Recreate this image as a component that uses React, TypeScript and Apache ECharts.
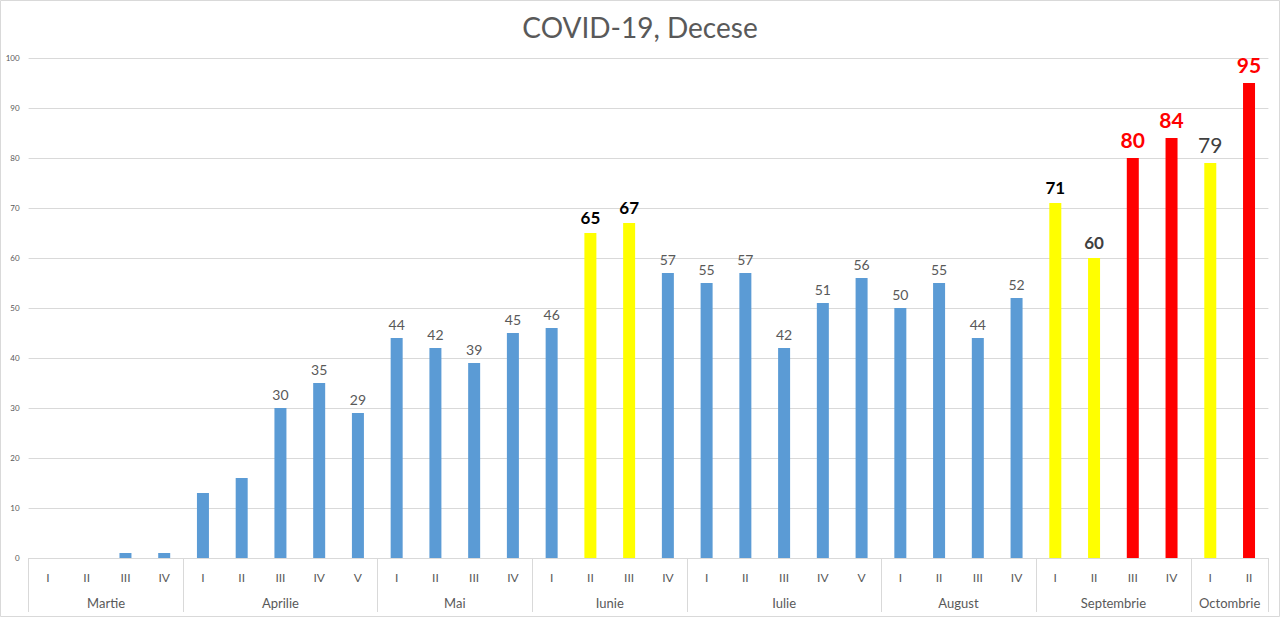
import React, { useEffect, useRef } from "react";
import * as echarts from "echarts";

const months = ["Martie", "Aprilie", "Mai", "Iunie", "Iulie", "August", "Septembrie", "Octombrie"];
const weeksPerMonth = [4, 5, 4, 4, 5, 4, 4, 2];
const romans = ["I", "II", "III", "IV", "V"];
const values = [
  0, 0, 1, 1,
  13, 16, 30, 35, 29,
  44, 42, 39, 45,
  46, 65, 67, 57,
  55, 57, 42, 51, 56,
  50, 55, 44, 52,
  71, 60, 80, 84,
  79, 95,
];
// b = blue, y = yellow, r = red
const barKinds = [
  "b", "b", "b", "b",
  "b", "b", "b", "b", "b",
  "b", "b", "b", "b",
  "b", "y", "y", "b",
  "b", "b", "b", "b", "b",
  "b", "b", "b", "b",
  "y", "y", "r", "r",
  "y", "r",
];
// n = none, s = small grey, k = bold black, d = bold dark grey, r = big bold red, g = big grey
const labelKinds = [
  "n", "n", "n", "n",
  "n", "n", "s", "s", "s",
  "s", "s", "s", "s",
  "s", "k", "k", "s",
  "s", "s", "s", "s", "s",
  "s", "s", "s", "s",
  "k", "d", "r", "r",
  "g", "r",
];
const yTicks = [0, 10, 20, 30, 40, 50, 60, 70, 80, 90, 100];

const FONT = "Lato, 'Open Sans', sans-serif";
const barColors: Record<string, string> = { b: "#5B9BD5", y: "#FFFF00", r: "#FF0000" };
const labelStyles: Record<string, any> = {
  n: { show: false },
  s: { show: true, fontSize: 14, color: "#595959", fontWeight: "normal", distance: 7 },
  k: { show: true, fontSize: 17, color: "#000000", fontWeight: "bold", distance: 7 },
  d: { show: true, fontSize: 17, color: "#404040", fontWeight: "bold", distance: 7 },
  r: { show: true, fontSize: 21, color: "#FF0000", fontWeight: "bold", distance: 8 },
  g: { show: true, fontSize: 21, color: "#404040", fontWeight: "normal", distance: 8 },
};

export default function App() {
  const ref = useRef<HTMLDivElement>(null);
  useEffect(() => {
    document.body.style.margin = "0";
    const chart = echarts.init(ref.current!, null, { renderer: "svg" });

    const weekLabels: string[] = [];
    weeksPerMonth.forEach((n) => {
      for (let i = 0; i < n; i++) weekLabels.push(romans[i]);
    });

    const total = weekLabels.length;
    const halfSlots: string[] = new Array(total * 2 + 1).fill("");
    const boundaries = new Set<number>();
    const centers = new Set<number>();
    let start = 0;
    weeksPerMonth.forEach((n, mi) => {
      boundaries.add(start * 2);
      const c = start * 2 + n;
      centers.add(c);
      halfSlots[c] = months[mi];
      start += n;
    });
    boundaries.add(start * 2);

    const data = values.map((v, i) => ({
      value: v,
      itemStyle: { color: barColors[barKinds[i]] },
      label: { ...labelStyles[labelKinds[i]], fontFamily: FONT, position: "top" },
    }));

    chart.setOption({
      animation: false,
      textStyle: { fontFamily: FONT },
      title: {
        text: "COVID-19, Decese",
        left: "center",
        top: 8,
        textStyle: { fontSize: 28, fontWeight: "normal", color: "#595959", fontFamily: FONT },
      },
      grid: { left: 28.6, right: 11.6, top: 58, bottom: 59, containLabel: false },
      xAxis: [
        {
          type: "category",
          data: weekLabels,
          position: "bottom",
          axisLine: { show: true, lineStyle: { color: "#d9d9d9", width: 1 } },
          axisTick: { show: false },
          axisLabel: { interval: 0, fontSize: 12, color: "#595959", margin: 13, fontFamily: FONT },
        },
        {
          type: "category",
          data: halfSlots,
          boundaryGap: false,
          position: "bottom",
          axisLine: { show: false },
          axisTick: {
            show: true,
            length: 54,
            interval: (idx: number) => boundaries.has(idx),
            lineStyle: { color: "#d9d9d9", width: 1 },
          },
          axisLabel: {
            interval: (idx: number) => centers.has(idx),
            fontSize: 13,
            color: "#595959",
            margin: 38,
            fontFamily: FONT,
          },
          splitLine: { show: false },
        },
      ],
      yAxis: {
        type: "value",
        min: 0,
        max: yTicks[yTicks.length - 1],
        interval: yTicks[1] - yTicks[0],
        axisLine: { show: false },
        axisTick: { show: false },
        axisLabel: { fontSize: 8, color: "#595959", margin: 9, fontFamily: FONT },
        splitLine: { lineStyle: { color: "#d9d9d9", width: 1 } },
      },
      graphic: [
        {
          type: "rect",
          shape: { x: 0.5, y: 0.5, width: 1279, height: 616 },
          style: { fill: "none", stroke: "#d9d9d9", lineWidth: 1 },
          silent: true,
        },
      ],
      series: [
        {
          type: "bar",
          xAxisIndex: 0,
          barWidth: 12,
          data,
        },
      ],
    });
    return () => chart.dispose();
  }, []);
  return <div ref={ref} style={{ width: 1280, height: 617 }} />;
}
